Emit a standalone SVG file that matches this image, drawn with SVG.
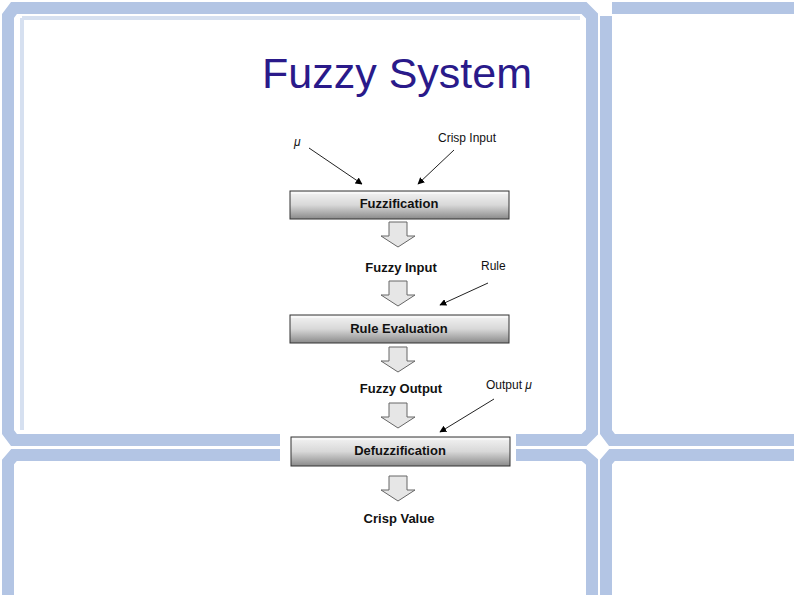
<svg xmlns="http://www.w3.org/2000/svg" width="794" height="595" viewBox="0 0 794 595">
<defs>
<linearGradient id="box" x1="0" y1="0" x2="0" y2="1">
<stop offset="0" stop-color="#f4f4f4"/><stop offset="0.5" stop-color="#d8d8d8"/><stop offset="1" stop-color="#8a8a8a"/>
</linearGradient>
<marker id="ah" viewBox="0 0 10 10" refX="9" refY="5" markerWidth="7" markerHeight="7" orient="auto"><path d="M0,0 L10,5 L0,10 z" fill="#000"/></marker>
<path id="blk" d="M-9,0 H9 V14 H17 L0,25 L-17,14 H-9 Z" fill="#e6e6e6" stroke="#666" stroke-width="1"/>
</defs>
<style>
.fr{fill:none;stroke:#b3c5e4;stroke-width:12}
.fi{fill:none;stroke:#d6e0f0;stroke-width:4}
.t{font-family:"Liberation Sans",Arial,sans-serif;font-size:13px;font-weight:bold;fill:#111;text-anchor:middle}
.l{font-family:"Liberation Sans",Arial,sans-serif;font-size:12px;fill:#111}
.cn{stroke:#222;stroke-width:1;fill:none;marker-end:url(#ah)}
</style>
<rect width="794" height="595" fill="#fff"/>
<g id="frames">
<path class="fr" d="M14,8 H584 L592,16 V432 L584,440 H14 L8,432 V16 Z"/>
<path class="fi" d="M22,18 H580 M22,18 V430"/>
<path class="fr" d="M612,8 H800 M606,16 V432 L612,440 H800"/>
<path class="fr" d="M8,600 V462 L14,455 H584 L592,462 V600"/>
<path class="fr" d="M800,455 H612 L606,462 V600"/>
</g>
<text x="397" y="88" font-family="Liberation Sans,Arial,sans-serif" font-size="43" fill="#2a1a8a" text-anchor="middle">Fuzzy System</text>
<rect x="280" y="120" width="236" height="475" fill="#fff"/>
<g id="fuzzification"><rect x="290" y="191" width="219" height="28" fill="url(#box)" stroke="#333"/><line x1="291" y1="193" x2="508" y2="193" stroke="#fff"/><text class="t" x="399" y="208">Fuzzification</text></g>
<g id="rule-evaluation"><rect x="290" y="315" width="219" height="28" fill="url(#box)" stroke="#333"/><line x1="291" y1="317" x2="508" y2="317" stroke="#fff"/><text class="t" x="399" y="333">Rule Evaluation</text></g>
<g id="defuzzification"><rect x="291" y="437" width="219" height="29" fill="url(#box)" stroke="#333"/><line x1="292" y1="439" x2="509" y2="439" stroke="#fff"/><text class="t" x="400" y="455">Defuzzification</text></g>
<g id="labels">
<text class="t" x="401" y="272">Fuzzy Input</text>
<text class="t" x="401" y="393">Fuzzy Output</text>
<text class="t" x="399" y="523">Crisp Value</text>
<text class="l" x="438" y="142">Crisp Input</text>
<text class="l" x="481" y="270">Rule</text>
<text class="l" x="486" y="389">Output <tspan font-style="italic">μ</tspan></text>
<text class="l" x="294" y="146" font-style="italic" font-size="14">μ</text>
</g>
<g id="connectors">
<use href="#blk" x="398" y="222"/>
<use href="#blk" x="398" y="281"/>
<use href="#blk" x="398" y="347"/>
<use href="#blk" x="398" y="403"/>
<use href="#blk" x="398" y="476"/>
<line class="cn" x1="309" y1="148" x2="362" y2="184"/>
<line class="cn" x1="454" y1="150" x2="418" y2="184"/>
<line class="cn" x1="488" y1="283" x2="440" y2="305"/>
<line class="cn" x1="494" y1="399" x2="440" y2="432"/>
</g>
</svg>
